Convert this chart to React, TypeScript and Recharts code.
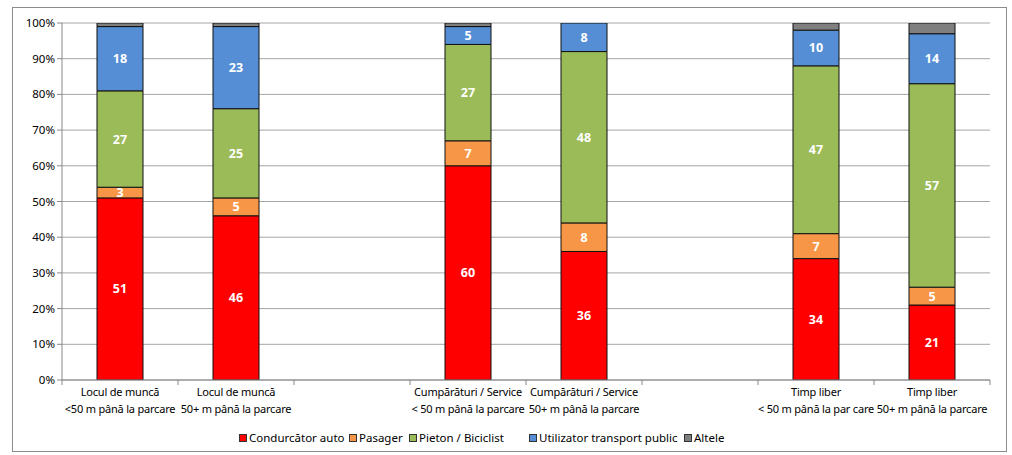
import React from "react"
import { BarChart, Bar, XAxis, YAxis, CartesianGrid, Legend, LabelList } from "recharts"

// categorii (doua randuri de eticheta), sloturile goale separa grupurile
const categoriiRand1 = ["Locul de muncă", "Locul de muncă", "", "Cumpărături / Service", "Cumpărături / Service", "", "Timp liber", "Timp liber"]
const categoriiRand2 = ["<50 m până la parcare", "50+ m până la parcare", "", "< 50 m până la parcare", "50+ m până la parcare", "", "< 50 m până la par care", "50+ m până la parcare"]

const conducatorAuto = [51, 46, null, 60, 36, null, 34, 21]
const pasager = [3, 5, null, 7, 8, null, 7, 5]
const pietonBiciclist = [27, 25, null, 27, 48, null, 47, 57]
const transportPublic = [18, 23, null, 5, 8, null, 10, 14]
const altele = [1, 1, null, 1, 0, null, 2, 3]

const yTicks = [0, 10, 20, 30, 40, 50, 60, 70, 80, 90, 100]

const serii = [
  { key: "cond", name: "Condurcător auto", color: "#FF0000", label: true },
  { key: "pas", name: "Pasager", color: "#F79646", label: true },
  { key: "piet", name: "Pieton / Biciclist", color: "#9BBB59", label: true },
  { key: "tp", name: "Utilizator transport public", color: "#558ED5", label: true },
  { key: "alt", name: "Altele", color: "#7F7F7F", label: false },
]

// latimea fiecarei intrari din legenda (px)
const latimiLegenda = [110, 60, 120, 155, 50]

const date = categoriiRand1.map((_, i) => ({
  id: i,
  cond: conducatorAuto[i],
  pas: pasager[i],
  piet: pietonBiciclist[i],
  tp: transportPublic[i],
  alt: altele[i],
}))

const W = 993
const H = 443
const MARGIN = { top: 15, right: 16, left: 0, bottom: 1 }
const Y_W = 49
const FONT = "'Noto Sans', 'Open Sans', sans-serif"
const slot = (W - MARGIN.left - MARGIN.right - Y_W) / categoriiRand1.length

const XTick = ({ x, y, payload, index }: any) => {
  const i = payload.value
  const last = index === categoriiRand1.length - 1
  return (
    <g>
      <line x1={x - slot / 2} x2={x - slot / 2} y1={y - 8} y2={y - 3} stroke="#888" />
      {last && <line x1={x + slot / 2} x2={x + slot / 2} y1={y - 8} y2={y - 3} stroke="#888" />}
      <text x={x} y={y} textAnchor="middle" fontSize={11} letterSpacing={-0.2} fill="#000" fontFamily={FONT}>
        <tspan x={x} dy={8}>{categoriiRand1[i]}</tspan>
        <tspan x={x} dy={17}>{categoriiRand2[i]}</tspan>
      </text>
    </g>
  )
}

const renderLegend = () => (
  <div style={{ display: "flex", fontFamily: FONT, fontSize: 11.5, color: "#000", alignItems: "center", whiteSpace: "nowrap" }}>
    {serii.map((s, i) => (
      <div key={s.key} style={{ display: "flex", alignItems: "center", gap: 2, width: latimiLegenda[i] }}>
        <div style={{ width: 6, height: 6, background: s.color, border: "1px solid #333" }} />
        <span>{s.name}</span>
      </div>
    ))}
  </div>
)

const renderEticheta = (props: any) => {
  const { x, y, width, height, value } = props
  if (!value) return null
  return (
    <text
      x={x + width / 2}
      y={y + height / 2}
      textAnchor="middle"
      dominantBaseline="central"
      fill="#fff"
      fontWeight="bold"
      fontSize={12.5}
      fontFamily={FONT}
    >
      {value}
    </text>
  )
}

export default function App() {
  return (
    <div style={{ position: "absolute", left: 12, top: 7, width: W, height: H, border: "1px solid #8c8c8c", background: "#fff" }}>
      <BarChart width={W} height={H} data={date} margin={MARGIN} barSize={46}>
        <CartesianGrid vertical={false} stroke="#a6a6a6" />
        <XAxis
          dataKey="id"
          tick={<XTick />}
          tickLine={false}
          axisLine={{ stroke: "#888" }}
          interval={0}
          height={50}
        />
        <YAxis
          domain={[0, 100]}
          ticks={yTicks}
          tickFormatter={(v: number) => v + "%"}
          width={Y_W}
          axisLine={{ stroke: "#888" }}
          tickLine={{ stroke: "#888" }}
          tickSize={5}
          tick={{ fontSize: 11.5, fill: "#000", fontFamily: FONT }}
          allowDataOverflow
        />
        <Legend
          verticalAlign="bottom"
          height={20}
          content={renderLegend}
          wrapperStyle={{ left: 226, width: 580 }}
        />
        {serii.map((s) => (
          <Bar key={s.key} dataKey={s.key} name={s.name} stackId="a" fill={s.color} stroke="#111" strokeWidth={1} isAnimationActive={false}>
            {s.label && <LabelList dataKey={s.key} content={renderEticheta} />}
          </Bar>
        ))}
      </BarChart>
    </div>
  )
}
